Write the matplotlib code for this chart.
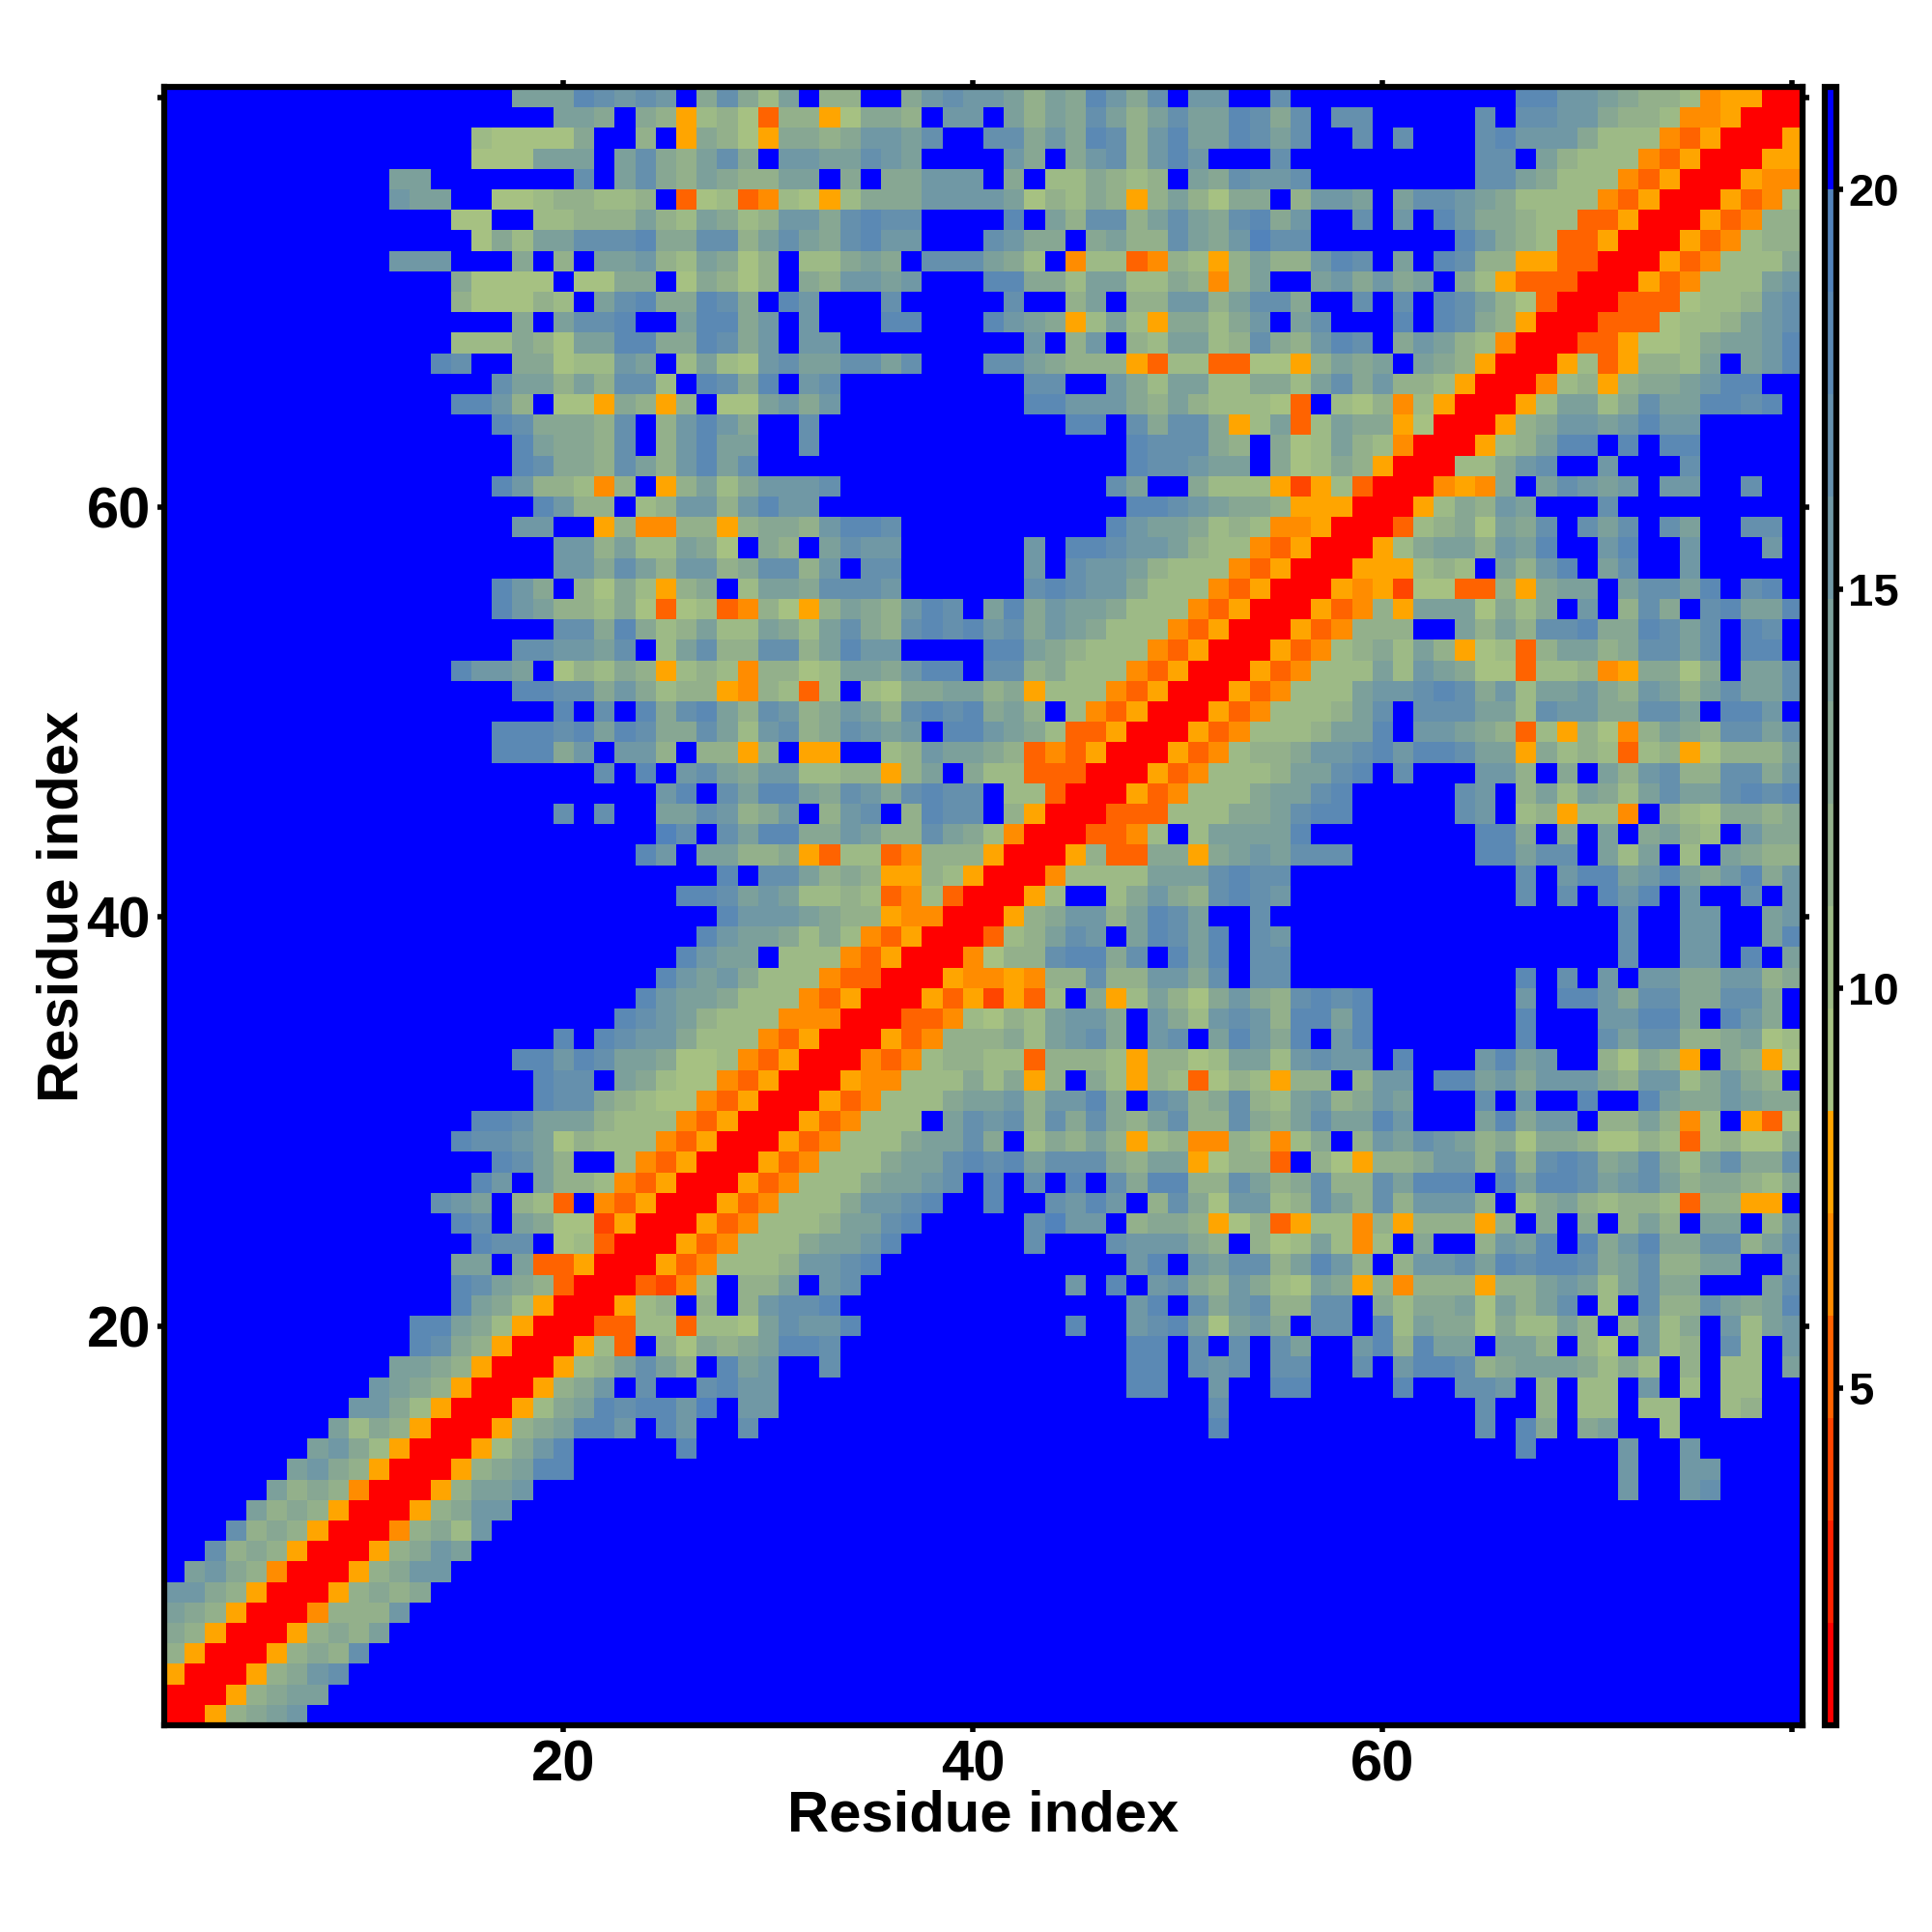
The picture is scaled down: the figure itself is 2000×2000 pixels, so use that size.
import numpy as np
import matplotlib
matplotlib.use('Agg')
import matplotlib.pyplot as plt
from matplotlib.colors import ListedColormap, BoundaryNorm
from matplotlib.cm import ScalarMappable

plt.rcParams['font.family'] = ['Liberation Sans', 'DejaVu Sans']
plt.rcParams['font.weight'] = 'bold'

# one letter per cell, top row (residue 80) first
# R F r O o = warm bands, 1..9 = sage to steel blue, B = blue (over 20)
rows_80_61 = [
    "B"*17+"55587676B4"+"7425B33BB4676653548647B66BB"+"7"+"B"*11+"886654332OooRR",
    "B"*19+"554B43o2"+"31r33o1443B66B53547535755"+"87"+"47B77BBBBB7B77664332OOoRRR",
    "B"*15+"211114BB3Bo4"+"31o44"+"34665"+"7BB77"+"46487"+"36855"+"87"+"57BB7"+"B7BBB"+"78666"+"4222O"+"roRRR"+"o",
    "B"*15+"111555B57435"+"74B66"+"55765"+"BBBB6"+"4B467"+"3686B"+"BB"+"7"+"B"*9+"77B53222OroRRRoo",
    "B"*11+"55"+"B"*7+"7B57435"+"43355"+"B4B44"+"666B4"+"B2243"+"23B54"+"76"+"67"+"B"*8+"7754222OroRRRoOO",
    "B"*11+"655BB11233223Br1"+"2rO21"+"o2444"+"66665"+"13243"+"o3531"+"44"+"B3665"+"B5776"+"54222"+"2OroR"+"RRorO"+"2",
    "B"*14+"11BB223335325"+"42366"+"47877"+"BBBB8"+"B5377"+"35754"+"78"+"46BB7"+"B6B86"+"44322"+"rroRR"+"RorO3"+"3",
    "B"*15+"142557778447"+"73575"+"47866"+"BBB76"+"44B45"+"33754"+"69"+"77"+"B"*7+"86432rroRRRorO233",
    "B"*11+"666BBB4B3B556325"+"413B2"+"2454B"+"77754"+"2BO22"+"rO32o"+"35"+"33687"+"B5B87"+"33oor"+"rRRRo"+"rO222"+"4",
    "B"*14+"41111B1144B14"+"313B4"+"36656"+"BBB88"+"44255"+"2243O"+"35"+"BB564"+"645B4"+"2orrr"+"RRRor"+"O2225"+"6",
    "B"*14+"311132B578448"+"74B86"+"BBB7B"+"BBBB7"+"BB35B"+"33663"+"57"+"74BB7"+"B7B87"+"531rR"+"RRrrr"+"12236"+"7",
    "B"*17+"4B5778BB58"+"846B6"+"BBB88"+"BBB86"+"54o25"+"2o442"+"46"+"B57BB"+"B8B87"+"43oRR"+"Rrrr1"+"22356"+"7",
    "B"*14+"2224315588448"+"746B66"+"B"*9+"6B36B3255237"+"43687"+"B4653"+"2ORRR"+"rro11"+"24556"+"8",
    "B"*13+"87BB4412265B25"+"21675"+"57757"+"BBB77"+"54333"+"or22r"+"r1"+"1o354"+"5B543"+"oRRRo"+"2ro33"+"25B56"+"8",
    "B"*16+"755353772B8"+"748B67"+"B"*9+"77BB64255224"+"42574"+"6332o"+"RRRO2"+"3o344"+"5688B"+"B",
    "B"*14+"8863B11o43o3B"+"115646"+"B"*9+"886664353222"+"1rB21"+"3O2oR"+"RRo25"+"52475"+"58878"+"B",
    "B"*16+"8744437B368"+"64BB7"+"B"*12+"88B74774o2"+"5r254"+"4o1RR"+"Ro346"+"65686"+"6BBBB"+"B",
    "B"*17+"854437B368"+"55BB7"+"B"*15+"877743B"+"41253"+"2ORRR"+"o2358"+"8B8B8"+"8BBBB"+"B",
    "B"*17+"8744375368"+"57"+"B"*18+"877655B"+"41243"+"oRRR2"+"2467B"+"B6BBB"+"7BBBB"+"B",
    "B"*16+"86332O3Bo35"+"246667"+"B"*13+"75BB4222"+"oFo2r"+"RRROo"+"O4B57"+"656B6"+"6BB7B"+"B",
]
rows_60_41 = [
    "B"*18+"8633B2366"+"36866"+"B"*15+"8876544"+"3oooR"+"RRo24"+"365BB"+"B7"+"B"*9,
    "B"*17+"66BBo3OO33"+"o34436887"+"B"*10+"86554232"+"OOoRR"+"Rr234"+"1547B"+"757B7"+"5BB77"+"B",
    "B"*19+"66352254"+"1B43B5766"+"B"*6+"6B887665322O"+"roRRR"+"o2455"+"3658B"+"B68BB"+"6BBB6"+"B",
    "B"*19+"66475366"+"347736B77"+"B"*6+"6B76653222Or"+"oRRRo"+"oo232"+"B5368"+"B57BB"+"6BBBB"+"B",
    "B"*16+"864B3142o34"+"B25547776"+"B"*6+"787664222Oro"+"RRRoO"+"oF11r"+"r3o45"+"5B577"+"58B78"+"B",
    "B"*16+"86533241r12"+"rO31o"+"35436"+"87B58"+"46554"+"222Or"+"oR"+"RRorO"+"3o555"+"1424B"+"6B374"+"B7855"+"8",
    "B"*19+"77484235"+"22542"+"57437"+"87867"+"46542"+"22Oro"+"RR"+"RorO3"+"33BB5"+"35377"+"84487"+"57B87"+"B",
    "B"*17+"776657B257"+"33773"+"5866B"+"BBB88"+"54322"+"2OroR"+"RR"+"orO23"+"4253o"+"12r35"+"53477"+"57B88"+"B",
    "B"*14+"8665B13243o23"+"2O331"+"25546"+"88B77"+"34222"+"OroRR"+"Ro"+"rO222"+"52654"+"11r22"+"3Oo44"+"14B55"+"7",
    "B"*17+"8877464233"+"oO32r"+"2B214"+"45534"+"o222O"+"roRRR"+"or"+"O2225"+"66787"+"46255"+"64365"+"35755"+"7",
    "B"*19+"8B7B8478"+"53763"+"46537"+"87845"+"3B2Or"+"oRRRo"+"rO"+"22235"+"7B777"+"55276"+"64477"+"5B886"+"B",
    "B"*16+"88878587447"+"52673"+"47656"+"B8865"+"42rro"+"RRRor"+"O2"+"22355"+"8B665"+"43r2o"+"31O35"+"43775"+"7",
    "B"*16+"88846B663B3"+"3o3Bo"+"oBB23"+"65543"+"rOroR"+"RRorO"+"23"+"34667"+"86887"+"55o42"+"32r23"+"o1333"+"5",
    "B"*21+"7B8B67"+"54662"+"233o3"+"5B422"+"rrrRR"+"RorO2"+"22"+"35578"+"B7BBB"+"663B4"+"B5367"+"33774"+"6",
    "B"*24+"68B"+"75885"+"47647"+"877B2"+"2rRRR"+"orO22"+"24"+"5578B"+"BBBB7"+"6B352"+"54257"+"55787"+"8",
    "B"*19+"7B7BB557"+"6346B"+"367B3"+"877B3"+"oRRRr"+"rr222"+"44"+"5788B"+"BBBB7"+"6B23o"+"22OB3"+"21443"+"4",
    "B"*24+"97B"+"75884"+"46533"+"7542O"+"RRRrr"+"O2B25"+"55"+"58"+"B"*8+"884B4B5B4532B644",
    "B"*23+"86B5"+"5334o"+"r22rO"+"333oR"+"RRo3r"+"r44o4"+"56"+"5777"+"B"*6+"88577B525B2B5433",
    "B"*27+"8B775"+"343oo"+"32oRR"+"RO222"+"25557"+"87"+"7"+"B"*11+"7B688"+"56854"+"6846",
    "B"*25+"88"+"75652"+"232rO"+"2rRRR"+"o2BB2"+"46437"+"87"+"6"+"B"*11+"7B7B868B6BB7B6",
]
rows_40_21 = [
    "B"*27+"86665"+"433oO"+"ORRRo"+"34663"+"5875B"+"B7"+"B"*17+"7BB66BB56",
    "B"*26+"8"+"65542"+"42Oro"+"RRRr2"+"3576B"+"58758"+"B7"+"6"+"B"*16+"7BB66BB58",
    "B"*25+"86"+"55B22"+"2OroR"+"RRO13"+"37884"+"7B858"+"B7"+"7"+"B"*16+"7BB66B8B5",
    "B"*24+"865"+"64222"+"OrrRR"+"RoOOo"+"O3373"+"36647"+"B7"+"7"+"B"*11+"8B7B6B66446634",
    "B"*23+"8655"+"4222O"+"roRRR"+"oroFo"+"r2B4o"+"25314"+"64"+"37878"+"B"*7+"6B886"+"47744"+"774B",
    "B"*22+"87653"+"222OO"+"ORRRr"+"rO213"+"25664"+"B6426"+"76"+"38858"+"B"*7+"8BBB6"+"6884B"+"864B",
    "B"*19+"8B876642"+"22Oro"+"RRRor"+"O3334"+"25674"+"B67B5"+"86"+"48B68"+"B"*7+"8BBB7"+"57733"+"4512",
    "B"*17+"8868755411"+"2OroR"+"RROrO"+"23322"+"r3332"+"o3312"+"55"+"26766"+"B8BBB"+"6856B"+"B3143"+"oB43o"+"1",
    "B"*18+"877B54211"+"OroRRRoOO"+"22242"+"4o3B4"+"2o32r"+"132"+"o33B3"+"66B88"+"56466"+"64366"+"24643"+"B",
    "B"*18+"87743211O"+"roRRR"+"orO22"+"24556"+"36684"+"B7634"+"73"+"25634"+"65BBB"+"7B6BB"+"8BB85"+"44654"+"4",
    "B"*15+"8875553222Or"+"oRRRo"+"rO222"+"B5767"+"37474"+"35733"+"74"+"35755"+"86BBB"+"58466"+"B3353"+"O2Bor"+"1",
    "B"*14+"8776513222Oro"+"RRRor"+"O2224"+"5574B"+"24353"+"o23OO"+"32"+"O24B3"+"65765"+"34144"+"31132"+"r2311"+"4",
    "B"*16+"8753BB2OroR"+"RRorO"+"22245"+"57878"+"57774"+"355o1"+"33"+"rB31o"+"33466"+"37378"+"74574"+"25744"+"7",
    "B"*15+"86B5332OroRR"+"RorO2"+"22455"+"67B8B"+"7B8B7"+"48833"+"75"+"34733"+"75888"+"B8588"+"75675"+"34432"+"4",
    "B"*13+"765B32rBOroRRR"+"orO22"+"24667"+"8BB8B"+"B7686"+"B3741"+"66"+"23753"+"73666"+"3B245"+"32332"+"r33oo"+"B",
    "B"*14+"87B5411FoRRRo"+"rO222"+"35578"+"BBBBB"+"7966B"+"3443o"+"13"+"ro22O"+"3o333"+"o3B4B"+"4B353"+"B55B3"+"6",
    "B"*15+"877B12rRRRor"+"O2224"+"5568B"+"BBBBB"+"7BBB7"+"66643"+"B3"+"1252O"+"2B4BB"+"3658B"+"84684"+"47735"+"7",
    "B"*14+"55B5rroRRRorO"+"22236678"+"B"*12+"68B6577"+"35863"+"B3667"+"58788"+"74573"+"355BB"+"6",
    "B"*14+"87543rRRRrFO2"+"B335B67"+"B"*10+"6B8B674364"+"2154o"+"3O333"+"o3356"+"52574"+"4BBB5"+"7",
    "B"*14+"8542oRRRo23B3"+"B36778"+"B"*14+"68B7467"+"3377B"+"42445"+"15357"+"B2B73"+"37545"+"8",
]
rows_20_1 = [
    "B"*12+"88542oRRRrr22r2"+"2157668"+"B"*10+"8BB6785156"+"4B77B"+"82544"+"14225"+"3B362"+"4B625"+"6",
    "B"*12+"8743oRRRo2rB314"+"345887"+"B"*14+"88B7B7B"+"75BB6"+"83855"+"B553B"+"31B62"+"3B72B"+"6",
    "B"*11+"5543oRRRo235753B"+"856BB7"+"B"*14+"88B767B"+"77BB7"+"B6887"+"34555"+"4242B"+"3B22B"+"5",
    "B"*10+"6543oRRRo346B7BB7"+"866"+"B"*17+"88BB6BB"+"88BBB"+"B8BB7"+"76B3B"+"22B6B"+"2B22B"+"B",
    "B"*9+"6642oRRRo245878869"+"B66"+"B"*21+"7BB"+"B"*10+"7BB3B22B22BB23BB",
    "B"*8+"5243oRRRo345886B86B"+"B7"+"B"*22+"8BB"+"B"*10+"7B84B45BB2"+"B"*6,
    "B"*7+"5642oRRRo2468"+"B"*5+"8B"+"B"*27+"B"*12+"8BBBB6BB6"+"B"*5,
    "B"*6+"5643oRRRo34588"+"B"*7+"B"*27+"B"*17+"6BB66BBBB",
    "B"*5+"5343ORRRo3556"+"B"*9+"B"*27+"B"*17+"6BB67BBBB",
    "B"*4+"5343oRRRo3466"+"B"*63,
    "B"*3+"7343oRRRO3426"+"B"*64,
    "B"*2+"7343oRRRo3465"+"B"*65,
    "B"+"5643ORRRo3466"+"B"*66,
    "6643oRRRo3434"+"B"*67,
    "543oRRRO3336"+"B"*68,
    "43oRRRo3435"+"B"*69,
    "3oRRRo3437"+"B"*70,
    "oRRRo3467"+"B"*71,
    "RRRo3455"+"B"*72,
    "RRo3456"+"B"*73,
]

# distance (angstrom) at the middle of each colour band
level_values = {'R': 1.5, 'F': 4.0, 'r': 5.3, 'O': 6.5, 'o': 7.8,
                '1': 9.1, '2': 10.4, '3': 11.7, '4': 12.9, '5': 14.2,
                '6': 15.5, '7': 16.8, '8': 18.0, '9': 19.3, 'B': 20.6}

band_edges = np.linspace(0.78, 21.28, 17)
band_colors = ['#ff0000', '#ff2200', '#ff4500', '#ff6300', '#ff8c00', '#ffa500',
               '#a6c182', '#9dba86', '#93b08b', '#87a793', '#7ca09b',
               '#7098a5', '#6590ad', '#5b89b4', '#5283bb', '#0000ff']
cb_ticks = [5, 10, 15, 20]

rows = rows_80_61 + rows_60_41 + rows_40_21 + rows_20_1
for i, row in enumerate(rows):
    assert len(row) == 80, (i, len(row))
dist = np.array([[level_values[c] for c in row] for row in rows])

cmap = ListedColormap(band_colors)
norm = BoundaryNorm(band_edges, cmap.N)

fig = plt.figure(figsize=(20, 20), dpi=100)
ax = fig.add_axes([170/2000, 1 - 1786/2000, 1696/2000, 1696/2000])
ax.imshow(dist, cmap=cmap, norm=norm, origin='upper', aspect='auto',
          interpolation='nearest', extent=(0.5, 80.5, 0.5, 80.5))

for s in ax.spines.values():
    s.set_linewidth(4.5)
ax.set_xticks([20, 40, 60, 80], ['20', '40', '60', ''])
ax.set_yticks([20, 40, 60, 80], ['20', '40', '60', ''])
ax.tick_params(axis='both', direction='out', length=5, width=4,
               top=True, right=True, labelsize=43)
ax.tick_params(axis='x', pad=5.5)
ax.tick_params(axis='y', pad=5)
ax.set_xlabel('Residue index', fontsize=43, fontweight='bold')
ax.set_ylabel('Residue index', fontsize=43, fontweight='bold')
ax.xaxis.set_label_coords(0.5, -0.0395)
ax.yaxis.set_label_coords(-0.0457, 0.5)

cax = fig.add_axes([1889/2000, 1 - 1786/2000, 12/2000, 1696/2000])
cb = fig.colorbar(ScalarMappable(norm=norm, cmap=cmap), cax=cax,
                  spacing='proportional', drawedges=False)
cb.set_ticks(cb_ticks)
cb.ax.tick_params(which='minor', length=0)
cb.ax.tick_params(axis='y', direction='out', length=5, width=4,
                  labelsize=34, pad=4)
cb.outline.set_linewidth(4.5)

fig.savefig('out.png', dpi=100, facecolor='white')
